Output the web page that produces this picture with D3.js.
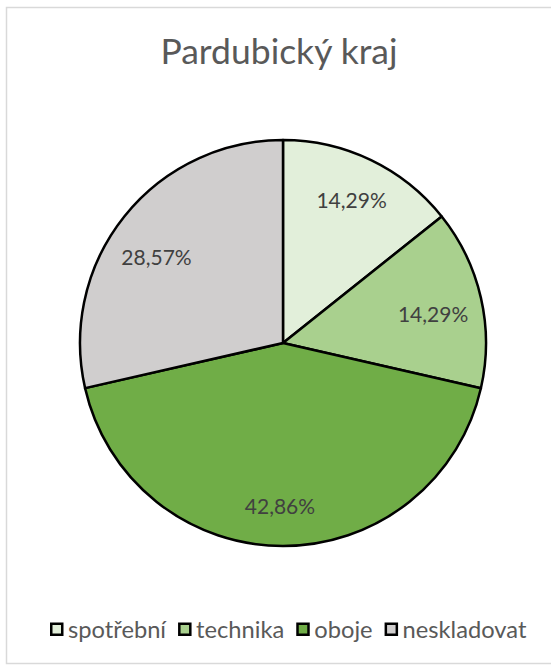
<!DOCTYPE html>
<html><head><meta charset="utf-8">
<script src="https://cdn.jsdelivr.net/npm/d3@7"></script>
<style>body{margin:0;background:#fff}svg{display:block}</style>
</head><body>
<script>
const categories = ["spotřební", "technika", "oboje", "neskladovat"];
const values = [14.29, 14.29, 42.86, 28.57];
const labels = ["14,29%", "14,29%", "42,86%", "28,57%"];
const colors = ["#E2EFDA", "#A9D08E", "#70AD47", "#D0CECE"];
const title = "Pardubický kraj";

const FONT = "Lato, 'Open Sans', sans-serif";
const W = 551, H = 666;
const svg = d3.select("body").append("svg").attr("width", W).attr("height", H);
svg.append("rect").attr("x", 6.5).attr("y", 7.5).attr("width", W).attr("height", 656)
  .attr("fill", "#fff").attr("stroke", "#d9d9d9").attr("stroke-width", 1.5);

svg.append("text").attr("x", 279).attr("y", 64).attr("text-anchor", "middle")
  .attr("font-family", FONT).attr("font-size", 35.5).attr("fill", "#595959").text(title);

const cx = 283, cy = 343, R = 203;
const pie = d3.pie().sort(null).value(d => d);
const arcs = pie(values);
const arc = d3.arc().innerRadius(0).outerRadius(R);
const labelArc = d3.arc().innerRadius(158).outerRadius(158);
const nudge = [[0, 0], [-4, 7], [-3, 6], [-3, 13]];
const g = svg.append("g").attr("transform", `translate(${cx},${cy})`);
g.selectAll("path").data(arcs).join("path").attr("d", arc)
  .attr("fill", (d, i) => colors[i]).attr("stroke", "#000").attr("stroke-width", 2.5).attr("stroke-linejoin", "round");
g.selectAll("text").data(arcs).join("text")
  .attr("transform", (d, i) => {
    const c = labelArc.centroid(d);
    return `translate(${c[0] + nudge[i][0]},${c[1] + nudge[i][1]})`;
  })
  .attr("text-anchor", "middle").attr("dy", "0.35em")
  .attr("font-family", FONT).attr("font-size", 21).attr("fill", "#404040")
  .text((d, i) => labels[i]);

// legend
const leg = svg.append("g").attr("font-family", FONT).attr("font-size", 23.7).attr("fill", "#595959");
const items = [];
let x = 0;
const tmp = leg.append("text").attr("visibility", "hidden");
categories.forEach((c, i) => {
  tmp.text(c);
  const w = tmp.node().getComputedTextLength();
  items.push({c, i, x, w});
  x += 18 + w + 12;
});
tmp.remove();
const lx = 50;
items.forEach(it => {
  leg.append("rect").attr("x", lx + it.x + 1.25).attr("y", 623.75).attr("width", 11).attr("height", 11)
    .attr("fill", colors[it.i]).attr("stroke", "#000").attr("stroke-width", 2.5);
  leg.append("text").attr("x", lx + it.x + 18).attr("y", 638).text(it.c);
});
</script>
</body></html>
